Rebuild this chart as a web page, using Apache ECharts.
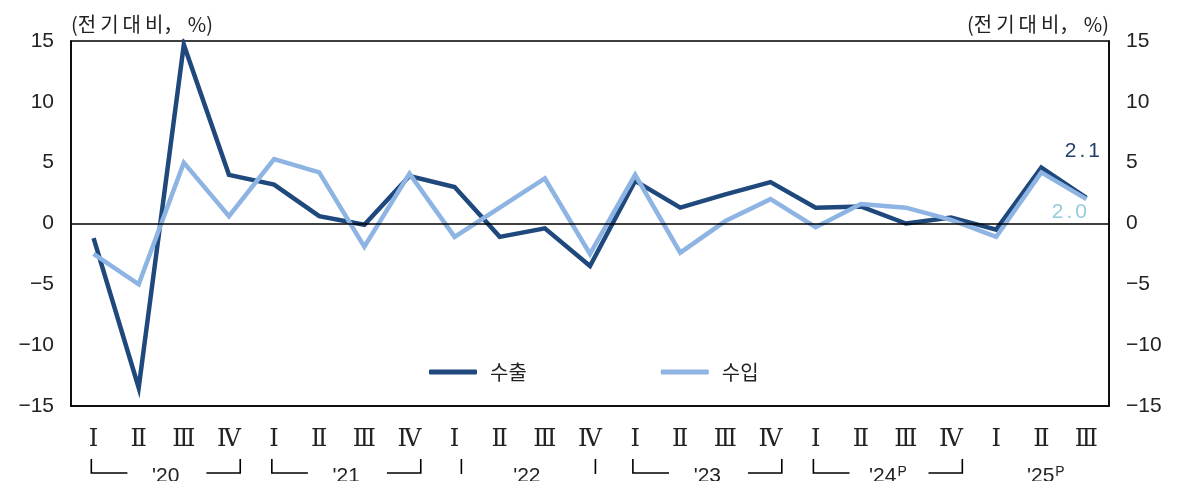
<!DOCTYPE html>
<html>
<head>
<meta charset="utf-8">
<script src="https://cdn.jsdelivr.net/npm/echarts@6/dist/echarts.min.js"></script>
<style>
html,body{margin:0;padding:0;background:#fff;}
#c{width:1185px;height:481px;}
</style>
</head>
<body>
<div id="c"></div>
<script>
// ---- data ----
const categories = ['Ⅰ','Ⅱ','Ⅲ','Ⅳ','Ⅰ','Ⅱ','Ⅲ','Ⅳ','Ⅰ','Ⅱ','Ⅲ','Ⅳ','Ⅰ','Ⅱ','Ⅲ','Ⅳ','Ⅰ','Ⅱ','Ⅲ','Ⅳ','Ⅰ','Ⅱ','Ⅲ'];
const exportsData = [-1.2, -13.5, 14.7, 4.0, 3.2, 0.6, -0.1, 3.9, 3.0, -1.1, -0.4, -3.5, 3.5, 1.3, 2.4, 3.4, 1.3, 1.4, 0.0, 0.5, -0.5, 4.6, 2.1];
const importsData = [-2.5, -5.0, 5.0, 0.6, 5.3, 4.2, -1.9, 4.1, -1.1, 1.3, 3.7, -2.5, 4.0, -2.4, 0.2, 2.0, -0.3, 1.6, 1.3, 0.3, -1.1, 4.2, 2.0];
const seriesNames = ['수출', '수입'];
const yearLabels = ["'20", "'21", "'22", "'23", "'24", "'25"];
const yearSup = ['', '', '', '', 'P', 'P'];
const yearStart = [0, 4, 8, 12, 16, 20];
const yearEnd = [3, 7, 11, 15, 19, 22];
const yearStyle = ['bracket', 'bracket', 'bar', 'bracket', 'bracket', 'none'];
const yTicks = { min: -15, max: 15, interval: 5 };
const unitLabel = '(전\u2009기\u2009대\u2009비， %)';

// ---- chart ----
const DARK = '#1f497d';
const LIGHT = '#8db4e2';
const chart = echarts.init(document.getElementById('c'), null, { renderer: 'canvas' });
const numFont = '"Liberation Sans", Arial, sans-serif';
const krFont = '"Noto Sans CJK KR", sans-serif';
const fmtNum = v => (v < 0 ? '\u2212' + Math.abs(v) : String(v));
const spacedRich = v => v.toFixed(1).split('').map(ch => ch === '.' ? '{s|.}' : '{d|' + ch + '}').join('');
function endLabelOpt(color, offset) {
  return {
    show: true, formatter: p => spacedRich(p.value), distance: 0, align: 'center', verticalAlign: 'middle', offset: offset,
    rich: {
      d: { fontFamily: numFont, fontSize: 21, color: color },
      s: { fontFamily: numFont, fontSize: 21, color: color, padding: [0, 3, 0, 3] }
    }
  };
}

const yAxisCommon = {
  type: 'value', min: yTicks.min, max: yTicks.max, interval: yTicks.interval,
  axisLine: { show: true, lineStyle: { color: '#000', width: 1.5 } },
  axisTick: { show: false }, splitLine: { show: false },
  axisLabel: { color: '#222', fontSize: 21, fontFamily: numFont, margin: 17, formatter: fmtNum, padding: [6, 0, 0, 0] },
  nameTextStyle: { color: '#222', fontSize: 20, fontFamily: krFont },
  nameGap: 7
};

chart.setOption({
  animation: false,
  backgroundColor: '#fff',
  grid: { left: 71, right: 76, top: 41, bottom: 75, show: true, borderColor: '#000', borderWidth: 1.5, containLabel: false },
  legend: {
    left: 424, top: 357, itemWidth: 48, itemHeight: 5, itemGap: 134,
    icon: 'roundRect',
    textStyle: { fontSize: 20, fontFamily: krFont, color: '#222', padding: [0, 0, 0, 8] },
    data: seriesNames
  },
  xAxis: {
    type: 'category', data: categories, boundaryGap: true,
    axisLine: { show: true, onZero: false, lineStyle: { color: '#000', width: 1.5 } },
    axisTick: { show: false },
    axisLabel: { color: '#222', fontSize: 24, fontFamily: '"DejaVu Serif", "Liberation Serif", serif', margin: 22, interval: 0 }
  },
  yAxis: [
    Object.assign({}, yAxisCommon, { position: 'left', name: unitLabel, nameTextStyle: Object.assign({}, yAxisCommon.nameTextStyle, { align: 'left' }) }),
    Object.assign({}, yAxisCommon, { position: 'right', name: unitLabel, nameTextStyle: Object.assign({}, yAxisCommon.nameTextStyle, { align: 'right' }) })
  ],
  series: [
    {
      name: seriesNames[0], type: 'line', yAxisIndex: 0, data: exportsData,
      symbol: 'none', color: DARK, lineStyle: { width: 4.5, color: DARK, join: 'miter' },
      endLabel: endLabelOpt('#23406b', [-4, -47]),
      markLine: { silent: true, symbol: 'none', label: { show: false }, lineStyle: { color: '#000', width: 1.5, type: 'solid' }, data: [{ yAxis: 0 }] },
      z: 2
    },
    {
      name: seriesNames[1], type: 'line', yAxisIndex: 0, data: importsData,
      symbol: 'none', color: LIGHT, lineStyle: { width: 4.5, color: LIGHT, join: 'miter' },
      endLabel: endLabelOpt('#92cddc', [-17, 13]),
      z: 3
    }
  ]
});

// year brackets under the quarter labels, positioned through the category axis
function drawYears() {
  const p0 = chart.convertToPixel({ xAxisIndex: 0 }, 0);
  const p1 = chart.convertToPixel({ xAxisIndex: 0 }, 1);
  const step = p1 - p0;
  const X = f => p0 + f * step;
  const yTop = 459, yBot = 473, yText = 476;
  const els = [];
  const ls = { stroke: '#000', lineWidth: 1.6 };
  for (let i = 0; i < yearLabels.length; i++) {
    const a = yearStart[i], b = yearEnd[i];
    const mid = (a + b) / 2 + 0.1;
    if (yearStyle[i] === 'bracket') {
      const xl = X(a - 0.05), xr = X(b + 0.25);
      els.push({ type: 'polyline', shape: { points: [[xl, yTop], [xl, yBot], [xl + 0.8 * step, yBot]] }, style: ls, silent: true });
      els.push({ type: 'polyline', shape: { points: [[xr - 0.75 * step, yBot], [xr, yBot], [xr, yTop]] }, style: ls, silent: true });
    } else if (yearStyle[i] === 'bar') {
      [X(a + 0.15), X(b + 0.12)].forEach(x => els.push({ type: 'line', shape: { x1: x, y1: yTop, x2: x, y2: yBot + 1 }, style: ls, silent: true }));
    }
    els.push({
      type: 'text', x: X(mid), y: yText, silent: true,
      style: {
        text: '{y|' + yearLabels[i] + '}' + (yearSup[i] ? '{p|' + yearSup[i] + '}' : ''),
        align: 'center', verticalAlign: 'middle',
        rich: {
          y: { fontSize: 21, fontFamily: numFont, fill: '#222', lineHeight: 22 },
          p: { fontSize: 14, fontFamily: numFont, fill: '#222', lineHeight: 22, verticalAlign: 'top', padding: [0, 0, 0, 1] }
        }
      }
    });
  }
  chart.setOption({ graphic: { elements: els } });
}
drawYears();
</script>
</body>
</html>
